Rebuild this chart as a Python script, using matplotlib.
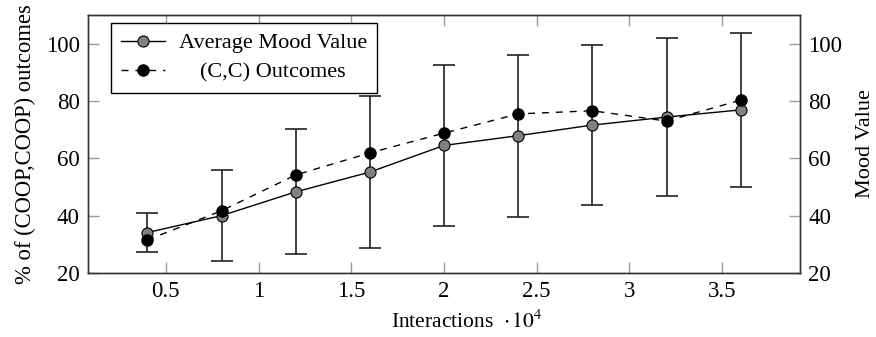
import numpy as np
import matplotlib
matplotlib.use('Agg')
import matplotlib.pyplot as plt

# data
interactions = [0.4, 0.8, 1.2, 1.6, 2.0, 2.4, 2.8, 3.2, 3.6]  # x 10^4
mood = [34.1, 40.0, 48.3, 55.2, 64.5, 67.9, 71.6, 74.4, 76.9]
mood_err = [6.8, 15.8, 21.8, 26.5, 28.2, 28.3, 27.8, 27.5, 26.9]
cc_outcomes = [31.5, 41.7, 54.2, 61.9, 68.8, 75.5, 76.6, 73.0, 80.3]

plt.rcParams['font.family'] = ['Liberation Serif', 'DejaVu Serif']
plt.rcParams['mathtext.fontset'] = 'stix'
plt.rcParams['font.size'] = 16.5

dpi = 100
fig = plt.figure(figsize=(876 / dpi, 337 / dpi), dpi=dpi)
ax = fig.add_axes([88 / 876, 1 - 273 / 337, 712 / 876, 258 / 337])

# error bars on the mood series
ax.errorbar(interactions, mood, yerr=mood_err, fmt='none', ecolor='#222222',
            elinewidth=1.2, capsize=7.7, capthick=1.2, zorder=2)

ax.plot(interactions, mood, color='black', lw=1, marker='o', ms=8,
        mfc='#808080', mec='black', mew=0.8, label='Average Mood Value', zorder=3)
ax.plot(interactions, cc_outcomes, color='black', lw=1, ls=(0, (5, 5)), marker='o', ms=8,
        mfc='black', mec='black', label='(C,C) Outcomes', zorder=4)

ax.set_xlim(0.08, 3.92)
ax.set_ylim(20, 110)
ax.set_xticks([0.5, 1, 1.5, 2, 2.5, 3, 3.5])
ax.set_xticklabels(['0.5', '1', '1.5', '2', '2.5', '3', '3.5'])
ax.set_yticks([20, 40, 60, 80, 100])
ax.tick_params(direction='in', length=8, width=1, color='#9a9a9a',
               top=True, right=False, pad=6)

for s in ax.spines.values():
    s.set_color('#333333')
    s.set_linewidth(1)

# "Interactions" is centred, the scale factor hangs off the end
ax.set_xlabel(r'Interactions  $\cdot\,10^{4}$', fontsize=15.5, labelpad=6)
ax.xaxis.label.set_x(0.532)
ax.set_ylabel('% of (COOP,COOP) outcomes', fontsize=16.3, labelpad=7)

# secondary axis with the same range
ax2 = ax.twinx()
ax2.set_ylim(20, 110)
ax2.set_yticks([20, 40, 60, 80, 100])
ax2.tick_params(direction='in', length=8, width=1, color='#9a9a9a', pad=6)
ax2.set_ylabel('Mood Value', fontsize=16, labelpad=10)
for s in ax2.spines.values():
    s.set_color('#333333')
    s.set_linewidth(1)

leg = ax.legend(loc='upper left', bbox_to_anchor=(0.032, 0.97), borderaxespad=0,
                fancybox=False, edgecolor='black', framealpha=1, fontsize=16,
                handlelength=2.0, borderpad=0.45, labelspacing=0.4, handletextpad=0.6)
leg.get_frame().set_linewidth(1)

# center the legend labels like the original
fig.canvas.draw()
texts = leg.get_texts()
widths = [t.get_window_extent().width for t in texts]
for t, w in zip(texts, widths):
    t.set_x((max(widths) - w) / 2)

fig.savefig('out.png', dpi=dpi)
